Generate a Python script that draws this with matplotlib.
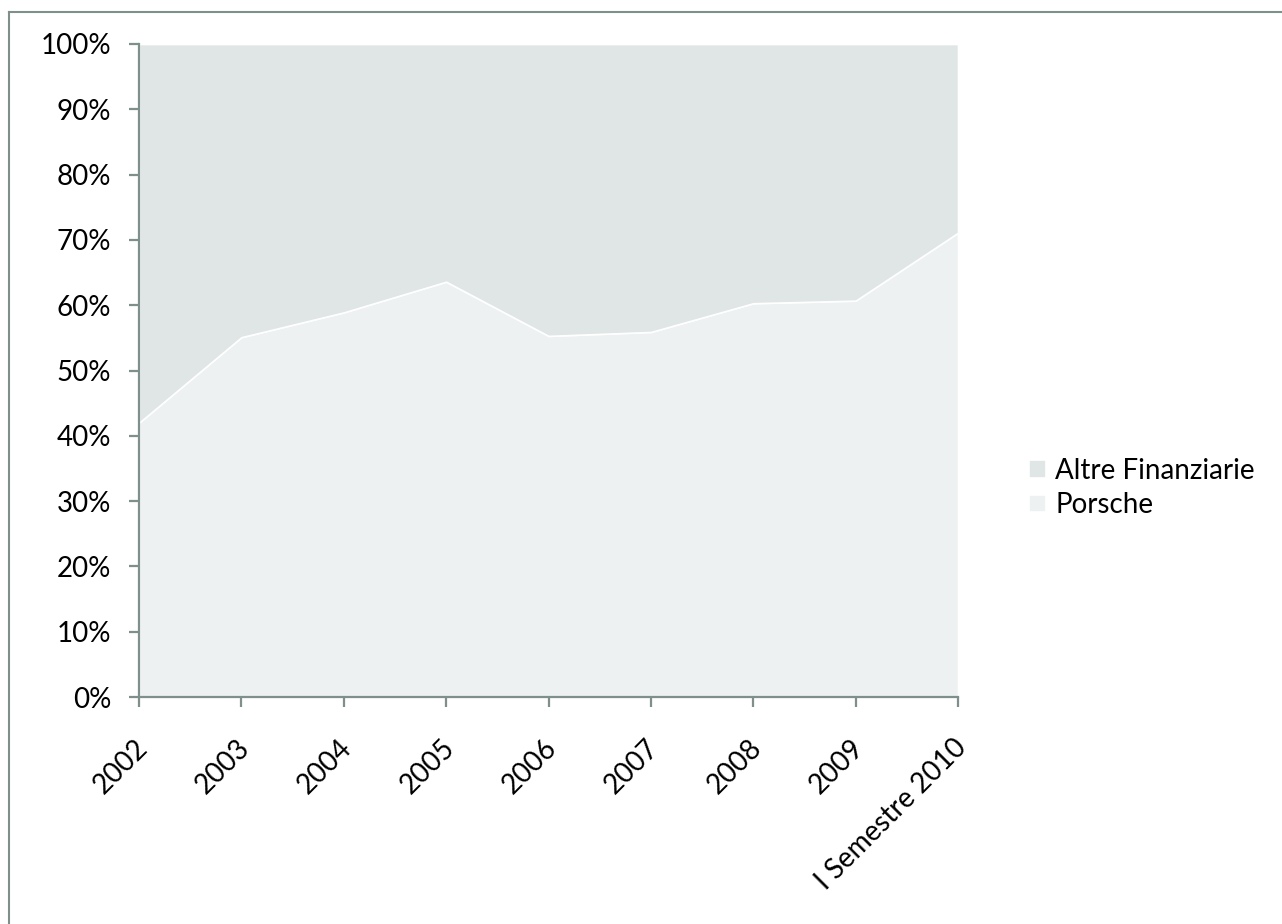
import matplotlib.pyplot as plt
from matplotlib.lines import Line2D
from matplotlib.ticker import FuncFormatter
from matplotlib.transforms import ScaledTranslation

plt.rcParams['font.family'] = ['Lato', 'DejaVu Sans']

anni = ['2002', '2003', '2004', '2005', '2006', '2007', '2008', '2009', 'I Semestre 2010']
porsche = [42.0, 55.1, 58.9, 63.6, 55.3, 55.9, 60.3, 60.7, 71.1]
altre = [100 - p for p in porsche]

col_porsche = '#edf1f2'
col_altre = '#dfe6e5'
col_asse = '#7f8f8c'

fig = plt.figure(figsize=(12.82, 9.24), dpi=100)
ax = fig.add_axes([139 / 1282, 227 / 924, (958 - 139) / 1282, (697 - 44) / 924])

x = list(range(len(anni)))
ax.stackplot(x, porsche, altre, colors=[col_porsche, col_altre],
             labels=['Porsche', 'Altre Finanziarie'],
             edgecolor='white', linewidth=1.2)

ax.set_xlim(0, len(anni) - 1)
ax.set_ylim(0, 100)
ax.set_yticks(range(0, 101, 10))
ax.yaxis.set_major_formatter(FuncFormatter(lambda v, _: f'{v:.0f}%'))
ax.set_xticks(x)
ax.set_xticklabels(anni, rotation=45, ha='right', rotation_mode='anchor')

for s in ['top', 'right']:
    ax.spines[s].set_visible(False)
for s in ['left', 'bottom']:
    ax.spines[s].set_color(col_asse)
    ax.spines[s].set_linewidth(1.6)
ax.tick_params(axis='both', colors=col_asse, width=1.6, length=7, labelcolor='black', labelsize=20)
ax.tick_params(axis='y', pad=13)
ax.tick_params(axis='x', pad=20)

# sposta un po' a sinistra le etichette ruotate
spost = ScaledTranslation(-5 / 100, 0, fig.dpi_scale_trans)
for lab in ax.get_xticklabels():
    lab.set_transform(lab.get_transform() + spost)

handles, labels = ax.get_legend_handles_labels()
leg = fig.legend(handles[::-1], labels[::-1], loc='center left',
                 bbox_to_anchor=(1004 / 1282, 1 - 488 / 924), frameon=False,
                 fontsize=20, handlelength=0.6, handleheight=0.6,
                 handletextpad=0.35, labelspacing=0.3)

# cornice esterna
fig.add_artist(Line2D([8.5 / 1282, 8.5 / 1282], [0, 1 - 11.5 / 924], color=col_asse, lw=1.5))
fig.add_artist(Line2D([8.5 / 1282, 1], [1 - 11.5 / 924, 1 - 11.5 / 924], color=col_asse, lw=1.5))

fig.savefig('out.png', dpi=100)
